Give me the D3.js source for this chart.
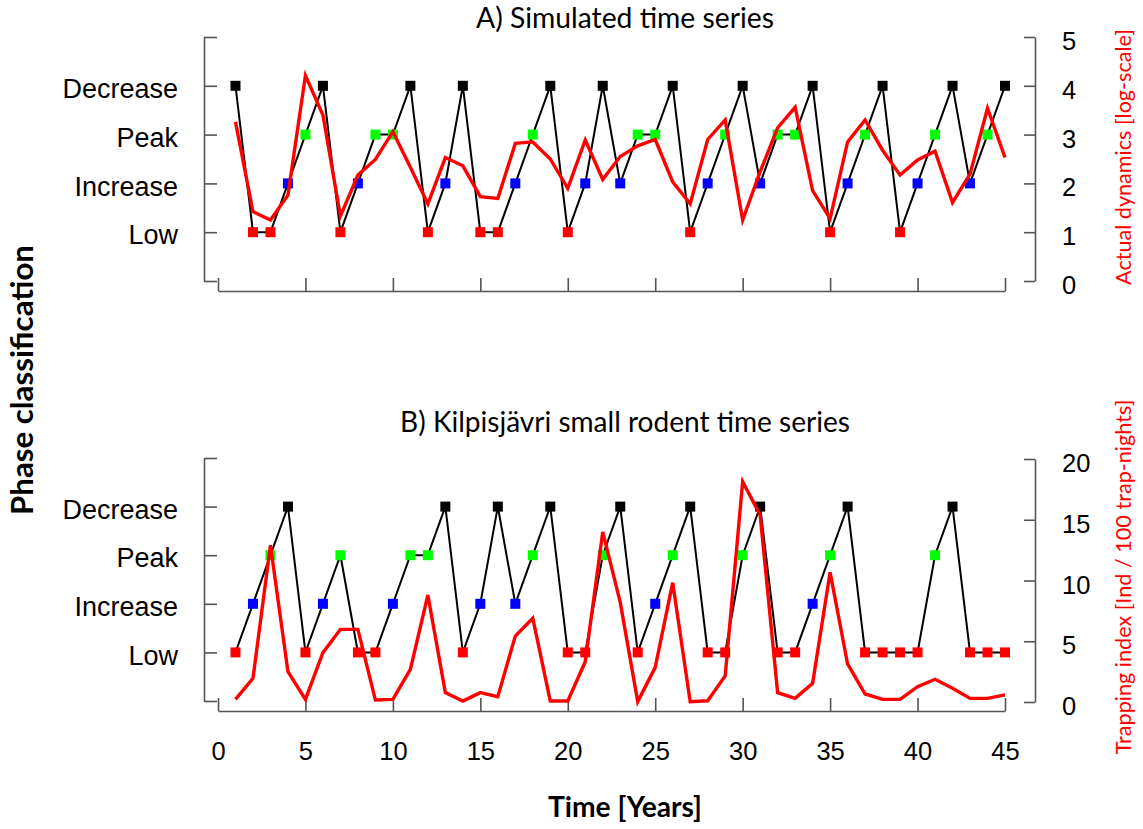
<!DOCTYPE html>
<html>
<head>
<meta charset="utf-8">
<script src="https://cdn.jsdelivr.net/npm/d3@7"></script>
<style>
  body { margin: 0; background: #fff; }
  svg { display: block; }
</style>
</head>
<body>
<svg id="chart" width="1143" height="829"></svg>
<script>
// years on the x axis
const years = [1, 2, 3, 4, 5, 6, 7, 8, 9, 10, 11, 12, 13, 14, 15, 16, 17, 18, 19, 20, 21, 22, 23,
    24, 25, 26, 27, 28, 29, 30, 31, 32, 33, 34, 35, 36, 37, 38, 39, 40, 41, 42, 43, 44, 45];
const xTicks = [0, 5, 10, 15, 20, 25, 30, 35, 40, 45];

// phase classes (1 = Low ... 4 = Decrease)
const phaseNames = ["Low", "Increase", "Peak", "Decrease"];
const phaseColours = ["#ff0000", "#0000ff", "#00ff00", "#000000"];

// A) simulated series
const simPhase = [4, 1, 1, 2, 3, 4, 1, 2, 3, 3, 4, 1, 2, 4, 1, 1, 2, 3, 4, 1, 2, 4, 2,
    3, 3, 4, 1, 2, 3, 4, 2, 3, 3, 4, 1, 2, 3, 4, 1, 2, 3, 4, 2, 3, 4];
const simDynamics = [3.26, 1.42, 1.25, 1.76, 4.21, 3.40, 1.33, 2.17, 2.49, 3.06, 2.33, 1.58, 2.53,
    2.36, 1.73, 1.69, 2.82, 2.85, 2.50, 1.90, 2.89, 2.08, 2.55, 2.77, 2.90, 2.03, 1.58, 2.90, 3.30,
    1.25, 2.24, 3.14, 3.56, 1.85, 1.28, 2.85, 3.30, 2.68, 2.17, 2.48, 2.66, 1.61, 2.19, 3.54, 2.53];
const simTicks = [0, 1, 2, 3, 4, 5];

// B) Kilpisjarvi rodents
const kilpPhase = [1, 2, 3, 4, 1, 2, 3, 1, 1, 2, 3, 3, 4, 1, 2, 4, 2, 3, 4, 1, 1, 3, 4,
    1, 2, 3, 4, 1, 1, 3, 4, 1, 1, 2, 3, 4, 1, 1, 1, 1, 3, 4, 1, 1, 1];
const kilpTrap = [0.22, 1.95, 12.9, 2.5, 0.22, 4.06, 5.98, 5.98, 0.16, 0.22, 2.69, 8.8, 0.77,
    0.08, 0.77, 0.44, 5.43, 6.89, 0.08, 0.08, 3.32, 14.0, 8.2, 0.03, 2.85, 9.82, 0.03, 0.1, 2.14,
    18.13, 15.39, 0.77, 0.3, 1.54, 10.67, 3.13, 0.66, 0.22, 0.22, 1.26, 1.87, 1.13, 0.3, 0.3, 0.58];
const trapTicks = [0, 5, 10, 15, 20];

const svg = d3.select("#chart");
const numFont = "'Liberation Sans', Arial, sans-serif";
const labFont = "Lato, 'Open Sans', sans-serif";
const axisCol = "#555";

const x = d3.scaleLinear().domain([0, 45]).range([218, 1005]);

// set the font size so the text has the wanted width
function fitText(sel, width) {
    const w = sel.node().getComputedTextLength();
    const size = parseFloat(sel.style("font-size"));
    sel.style("font-size", (size * width / w) + "px");
}

function styleAxis(g, size, dy) {
    g.select(".domain").attr("stroke", axisCol).attr("stroke-width", 1.6);
    g.selectAll(".tick line").attr("stroke", axisCol).attr("stroke-width", 1.6);
    const t = g.selectAll(".tick text")
        .attr("fill", "#000")
        .style("font-family", numFont)
        .style("font-size", size + "px");
    if (dy) t.attr("dy", dy);
}

function drawPanel(p) {
    const yPhase = d3.scaleLinear().domain([0, 5]).range([p.bottom, p.top]);
    const yRight = d3.scaleLinear().domain(p.rightDomain).range([p.bottom + p.rightShift, p.top + p.rightShift]);

    // left axis with phase names
    const left = svg.append("g")
        .attr("transform", "translate(204,0)")
        .call(d3.axisLeft(yPhase).tickValues([0, 1, 2, 3, 4, 5])
            .tickSizeInner(-13).tickSizeOuter(0).tickPadding(26)
            .tickFormat(d => (d >= 1 && d <= 4) ? phaseNames[d - 1] : ""));
    styleAxis(left, 27, "0.43em");

    // right axis
    const right = svg.append("g")
        .attr("transform", "translate(1035,0)")
        .call(d3.axisRight(yRight).tickValues(p.rightTicks)
            .tickSizeInner(-11).tickSizeOuter(0).tickPadding(27)
            .tickFormat(d3.format("d")));
    styleAxis(right, 25.5, "0.49em");

    // bottom axis
    const bottom = svg.append("g")
        .attr("transform", "translate(0," + p.axisY + ")")
        .call(d3.axisBottom(x).tickValues(xTicks)
            .tickSizeInner(-13).tickSizeOuter(0).tickPadding(31)
            .tickFormat(p.showX ? d3.format("d") : () => ""));
    styleAxis(bottom, 25.5);

    // black line through the phases
    svg.append("path")
        .datum(p.phase)
        .attr("fill", "none")
        .attr("stroke", "#000")
        .attr("stroke-width", 2)
        .attr("d", d3.line()
            .x((d, i) => x(years[i]))
            .y(d => yPhase(d)));

    // coloured squares
    svg.append("g").selectAll("rect")
        .data(p.phase)
        .enter()
        .append("rect")
        .attr("x", (d, i) => x(years[i]) - 5)
        .attr("y", d => yPhase(d) - 5)
        .attr("width", 10)
        .attr("height", 10)
        .attr("fill", d => phaseColours[d - 1]);

    // red series on top
    svg.append("path")
        .datum(p.series)
        .attr("fill", "none")
        .attr("stroke", "#ff0000")
        .attr("stroke-width", 3.4)
        .attr("stroke-linejoin", "miter")
        .attr("d", d3.line()
            .x((d, i) => x(years[i]))
            .y(d => yRight(d)));

    // title
    const title = svg.append("text")
        .attr("x", 625)
        .attr("y", p.titleY)
        .attr("text-anchor", "middle")
        .style("font-family", labFont)
        .style("font-size", "24px")
        .text(p.title);
    fitText(title, p.titleWidth);

    // red axis label
    const rl = svg.append("text")
        .attr("transform", "translate(1131," + p.rightLabelY + ") rotate(-90)")
        .attr("text-anchor", "middle")
        .attr("fill", "#ff0000")
        .style("font-family", labFont)
        .style("font-size", "22px")
        .text(p.rightLabel);
    fitText(rl, p.rightLabelWidth);
}

drawPanel({
    top: 37, bottom: 281, axisY: 291, rightShift: 0,
    rightDomain: [0, 5], rightTicks: simTicks,
    phase: simPhase, series: simDynamics, showX: false,
    title: "A) Simulated time series", titleY: 28, titleWidth: 298,
    rightLabel: "Actual dynamics [log-scale]", rightLabelY: 157, rightLabelWidth: 256
});

drawPanel({
    top: 458, bottom: 701, axisY: 711, rightShift: 1,
    rightDomain: [0, 20], rightTicks: trapTicks,
    phase: kilpPhase, series: kilpTrap, showX: true,
    title: "B) Kilpisjävri small rodent time series", titleY: 432, titleWidth: 450,
    rightLabel: "Trapping index [Ind / 100 trap-nights]", rightLabelY: 577, rightLabelWidth: 355
});

// shared axis titles
const yl = svg.append("text")
    .attr("transform", "translate(33,380) rotate(-90)")
    .attr("text-anchor", "middle")
    .style("font-family", labFont)
    .style("font-weight", "bold")
    .style("font-size", "26px")
    .text("Phase classification");
fitText(yl, 270);

const xl = svg.append("text")
    .attr("x", 625)
    .attr("y", 817)
    .attr("text-anchor", "middle")
    .style("font-family", labFont)
    .style("font-weight", "bold")
    .style("font-size", "24px")
    .text("Time [Years]");
fitText(xl, 154);
</script>
</body>
</html>
